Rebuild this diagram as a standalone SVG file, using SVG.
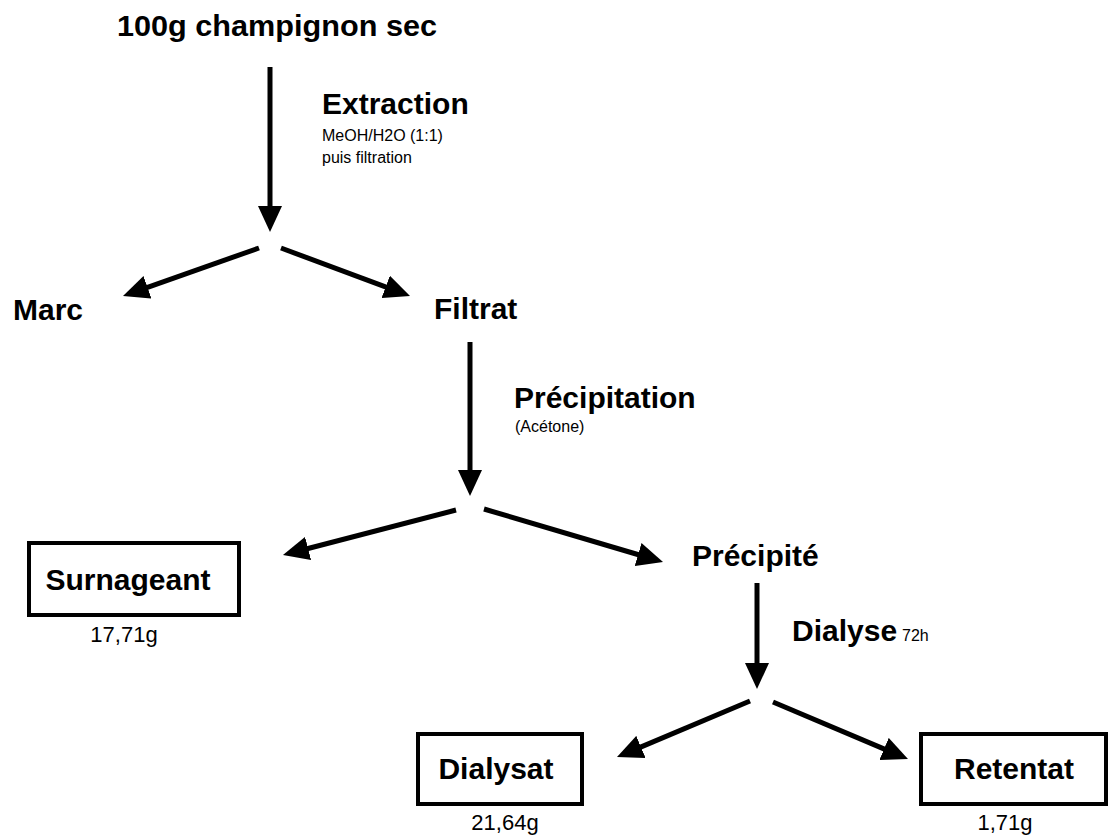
<svg xmlns="http://www.w3.org/2000/svg" width="1110" height="840" viewBox="0 0 1110 840">
<style>
.b{font-family:"Liberation Sans",Arial,sans-serif;font-weight:bold;font-size:30px;fill:#000}
.s{font-family:"Liberation Sans",Arial,sans-serif;font-size:16px;fill:#000}
.m{font-family:"Liberation Sans",Arial,sans-serif;font-size:22px;fill:#000}
.c{stroke:#000;stroke-width:5;fill:none}
.box{stroke:#000;stroke-width:4;fill:#fff}
</style>
<defs>
<marker id="ah" viewBox="0 0 26 24" refX="12" refY="12" markerWidth="26" markerHeight="24" orient="auto" markerUnits="userSpaceOnUse">
<path d="M0,0 L26,12 L0,24 z" fill="#000"/>
</marker>
</defs>
<rect width="1110" height="840" fill="#fff"/>
<g id="connectors">
<line class="c" x1="270" y1="67" x2="270" y2="218" marker-end="url(#ah)"/>
<line class="c" x1="259" y1="248" x2="136.2" y2="291.3" marker-end="url(#ah)"/>
<line class="c" x1="281" y1="248" x2="396.9" y2="291.1" marker-end="url(#ah)"/>
<line class="c" x1="470" y1="342" x2="470" y2="482" marker-end="url(#ah)"/>
<line class="c" x1="456" y1="510" x2="296.5" y2="551.5" marker-end="url(#ah)"/>
<line class="c" x1="484" y1="509" x2="649.6" y2="558" marker-end="url(#ah)"/>
<line class="c" x1="757" y1="583" x2="757" y2="675" marker-end="url(#ah)"/>
<line class="c" x1="750" y1="701" x2="629.9" y2="751.6" marker-end="url(#ah)"/>
<line class="c" x1="773" y1="702" x2="895.1" y2="753.6" marker-end="url(#ah)"/>
</g>
<g id="start"><text class="b" x="117" y="36" textLength="320" lengthAdjust="spacingAndGlyphs">100g champignon sec</text></g>
<g id="extraction">
<text class="b" x="322" y="114">Extraction</text>
<text class="s" x="322" y="141">MeOH/H2O (1:1)</text>
<text class="s" x="322" y="163">puis filtration</text>
</g>
<g id="marc"><text class="b" x="13" y="320">Marc</text></g>
<g id="filtrat"><text class="b" x="434" y="319">Filtrat</text></g>
<g id="precipitation">
<text class="b" x="514" y="408">Précipitation</text>
<text class="s" x="515" y="432">(Acétone)</text>
</g>
<g id="surnageant">
<rect class="box" x="29" y="543" width="210" height="72"/>
<text class="b" x="128" y="590" text-anchor="middle">Surnageant</text>
<text class="m" x="124" y="642" text-anchor="middle">17,71g</text>
</g>
<g id="precipite"><text class="b" x="692" y="566">Précipité</text></g>
<g id="dialyse">
<text class="b" x="792" y="641">Dialyse</text>
<text class="s" x="902" y="641">72h</text>
</g>
<g id="dialysat">
<rect class="box" x="418" y="734" width="164" height="70"/>
<text class="b" x="496" y="779" text-anchor="middle">Dialysat</text>
<text class="m" x="505" y="830" text-anchor="middle">21,64g</text>
</g>
<g id="retentat">
<rect class="box" x="921" y="734" width="185" height="70"/>
<text class="b" x="1014" y="779" text-anchor="middle">Retentat</text>
<text class="m" x="1005" y="830" text-anchor="middle">1,71g</text>
</g>
</svg>
